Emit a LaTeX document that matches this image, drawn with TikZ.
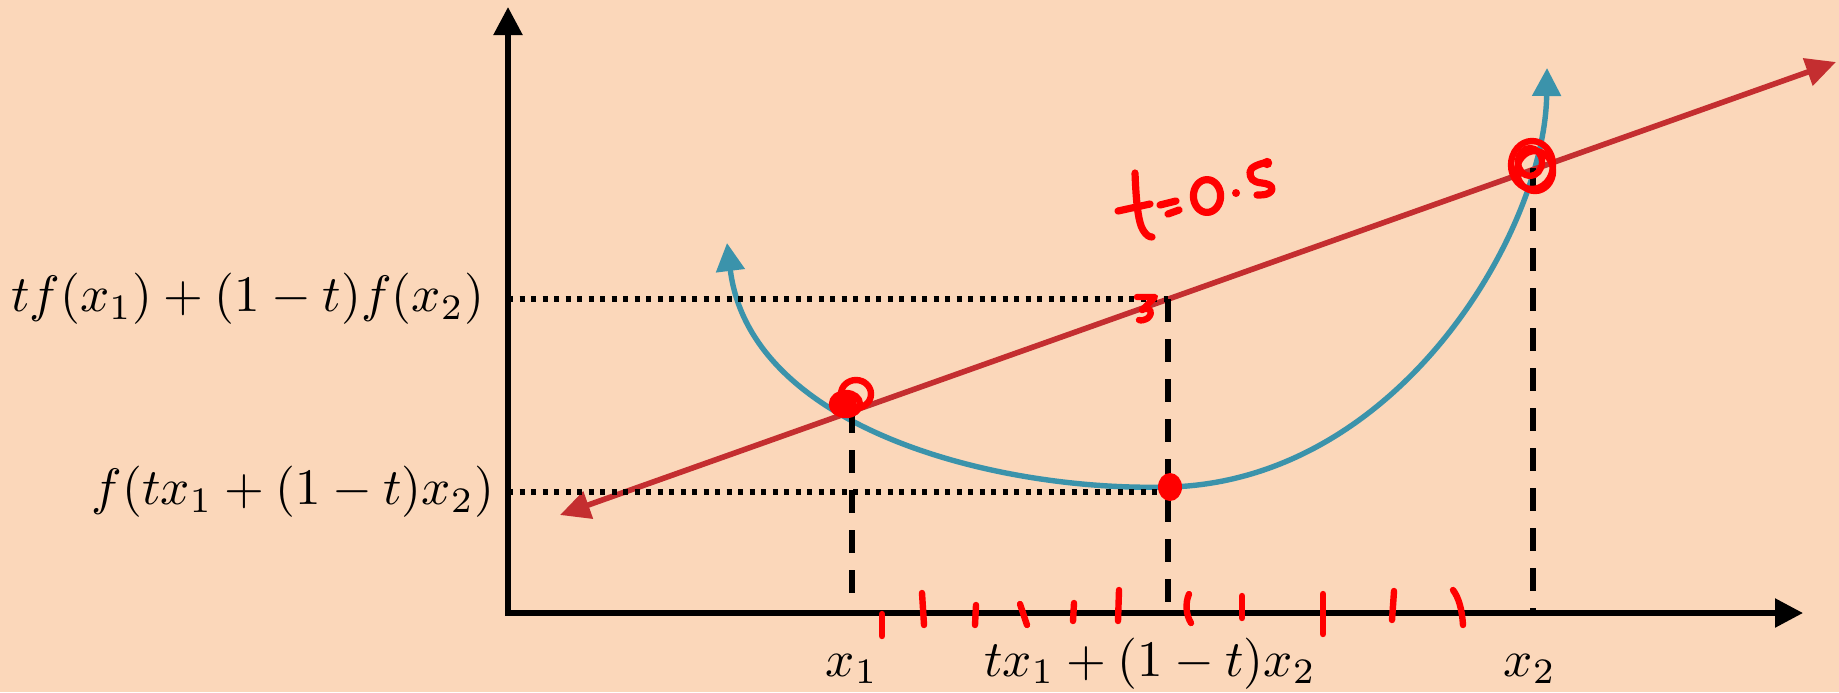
\documentclass[tikz,border=0pt]{standalone}
\usetikzlibrary{arrows.meta}
\definecolor{bg}{RGB}{251,215,186}
\definecolor{lred}{RGB}{196,46,48}
\definecolor{teal2}{RGB}{59,147,171}
\definecolor{penred}{RGB}{255,0,0}
\begin{document}
\begin{tikzpicture}[x=0.5pt,y=-0.5pt,
  axis/.style={line width=2.7pt, {Triangle[length=14pt,width=14pt]}-{Triangle[length=14pt,width=14pt]}},
  redline/.style={draw=lred, line width=2.8pt, {Triangle[length=15pt,width=14pt]}-{Triangle[length=15pt,width=14pt]}},
  curve/.style={draw=teal2, line width=2.7pt, {Triangle[length=14pt,width=14pt]}-{Triangle[length=14pt,width=14pt]}},
  guide/.style={line width=2.8pt, dash pattern=on 11.5pt off 8.5pt},
  dots/.style={line width=2.7pt, dash pattern=on 2.7pt off 3.05pt},
  pen/.style={draw=penred, line width=3.2pt, line cap=round, line join=round},
  lab/.style={inner sep=0pt, font=\fontsize{10}{12}\selectfont, scale=2.56}
]
\fill[bg] (0,0) rectangle (1839,692);
\useasboundingbox (0,0) rectangle (1839,692);

% coordinates
\coordinate (O) at (508,613);
\coordinate (Ytop) at (508,7);
\coordinate (Xend) at (1803,613);
\coordinate (RL) at (560,515);
\coordinate (RR) at (1836,62);
\coordinate (T1) at (727,243);
\coordinate (M) at (1170,487);
\coordinate (T2) at (1547,68);
\coordinate (P1) at (852,410);
\coordinate (P1b) at (852,613);
\coordinate (Q) at (1168,299);
\coordinate (Qb) at (1168,613);
\coordinate (P2) at (1533,168);
\coordinate (P2b) at (1533,613);
\coordinate (Y1) at (508,299);
\coordinate (Y2) at (508,492);
\coordinate (Y2e) at (1162,492);

% axes
\draw[axis] (Ytop) -- (O) -- (Xend);

% curve and chord
\draw[curve] (T1) .. controls (750,430) and (1000,492) .. (M)
                  .. controls (1400,480) and (1545,230) .. (T2);
\draw[redline] (RL) -- (RR);

% guides
\draw[dots] (Y1) -- (Q);
\draw[dots] (Y2) -- (Y2e);
\draw[guide] (P1) -- (P1b);
\draw[guide] (Q) -- (Qb);
\draw[guide] (P2) -- (P2b);

% labels
\node[lab, anchor=east] (ly1) at (485,299) {$tf(x_1)+(1-t)f(x_2)$};
\node[lab, anchor=east] (ly2) at (495,492) {$f(tx_1+(1-t)x_2)$};
\node[lab, anchor=base] (lx1) at (852,676) {$x_1$};
\node[lab, anchor=base] (lxm) at (1150,676) {$tx_1+(1-t)x_2$};
\node[lab, anchor=base] (lx2) at (1530,676) {$x_2$};

% hand-drawn annotations
% t=0.5
\begin{scope}[pen/.append style={line width=3.6pt}]
\draw[pen] (1135,173) .. controls (1136,200) and (1138,222) .. (1143,230) .. controls (1146,235) and (1149,237) .. (1152,237);
\draw[pen] (1118,211) -- (1150,204);
\draw[pen] (1160,205) -- (1176,201);
\draw[pen] (1168,214) -- (1179,210);
\draw[pen] (1207,196) ellipse [x radius=6.8pt, y radius=8.2pt];
\fill[penred] (1236,193) circle (2pt);
\draw[pen] (1268,162) .. controls (1259,164) and (1250,167) .. (1250,172)
  .. controls (1250,178) and (1252,182) .. (1262,183)
  .. controls (1272,184) and (1275,189) .. (1269,193)
  .. controls (1266,195) and (1261,195) .. (1257,195);
\fill[penred] (1267,163) circle (2.6pt);
\end{scope}

% small mark near chord point
\draw[pen] (1137,297) -- (1155,297) -- (1142,310)
  .. controls (1150,306) and (1154,312) .. (1148,318) .. controls (1145,320) and (1141,321) .. (1139,320);

% scribble at x1
\fill[penred] (843,405) ellipse [x radius=7pt, y radius=6pt];
\draw[pen] (856,394) ellipse [x radius=7.5pt, y radius=7pt];
\draw[pen] (846,404) ellipse [x radius=7pt, y radius=5.5pt];

% scribble at x2
\draw[pen] (1532,165) ellipse [x radius=10.5pt, y radius=12pt];
\draw[pen] (1535,171) ellipse [x radius=9pt, y radius=10pt];
\draw[pen] (1530,162) ellipse [x radius=6pt, y radius=7pt];

% dot at mid
\fill[penred] (M) ellipse [x radius=6pt, y radius=7pt];

% ticks on x axis
\draw[pen] (882,614) -- (882,636);
\draw[pen] (922,593) -- (924,625);
\draw[pen] (976,605) -- (975,625);
\draw[pen] (1020,604) -- (1027,625);
\draw[pen] (1074,603) -- (1073,621);
\draw[pen] (1119,590) -- (1118,621);
\draw[pen] (1189,594) .. controls (1185,603) and (1186,615) .. (1191,623);
\draw[pen] (1242,596) -- (1242,618);
\draw[pen] (1323,594) -- (1323,634);
\draw[pen] (1394,591) -- (1392,620);
\draw[pen] (1453,590) .. controls (1459,598) and (1462,610) .. (1463,625);
\end{tikzpicture}
\end{document}
